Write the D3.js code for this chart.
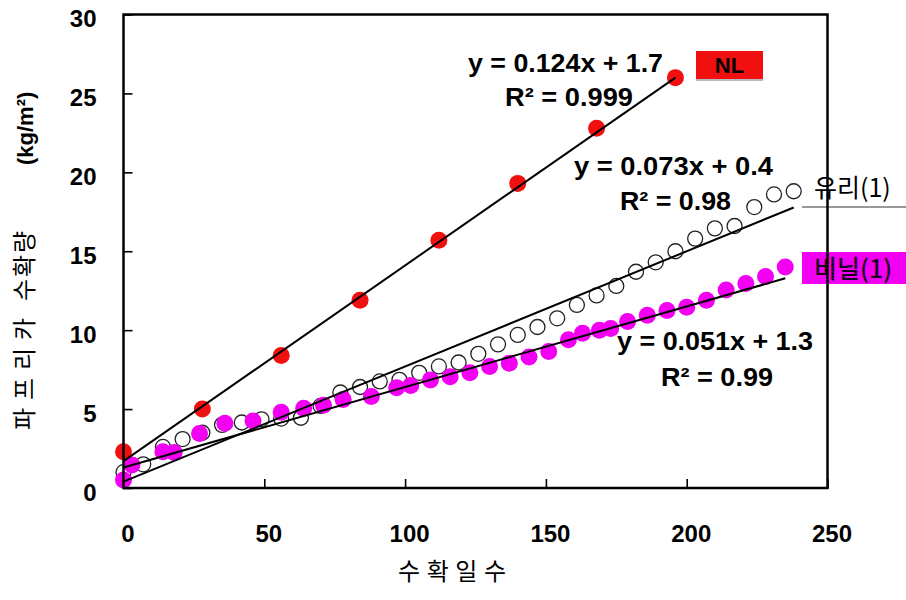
<!DOCTYPE html>
<html>
<head>
<meta charset="utf-8">
<script src="https://cdn.jsdelivr.net/npm/d3@7"></script>
<style>
  html, body { margin: 0; padding: 0; background: #fff; }
  svg { display: block; }
  .num { font-family: "Liberation Sans", Arial, sans-serif; font-weight: bold; }
  .kr { font-family: "Noto Sans CJK KR", "Noto Sans", sans-serif; }
</style>
</head>
<body>
<svg id="chart" width="906" height="600"></svg>
<script>
// Harvest days (x) and cumulative paprika yield in kg/m2 (y) per greenhouse type
const nlDays   = [0, 28, 56, 84, 112, 140, 168, 196];
const nlYield  = [2.3, 5.0, 8.4, 11.9, 15.7, 19.3, 22.8, 26.0];

const glassDays  = [0, 7, 14, 21, 28, 35, 42, 49, 56, 63, 70, 77, 84, 91, 98, 105, 112, 119,
                    126, 133, 140, 147, 154, 161, 168, 175, 182, 189, 196, 203, 210, 217, 224, 231, 238];
const glassYield = [1.0, 1.5, 2.6, 3.1, 3.5, 4.0, 4.15, 4.35, 4.4, 4.45, 5.2, 6.05, 6.4, 6.75, 6.85, 7.3, 7.7, 7.95,
                    8.5, 9.1, 9.7, 10.2, 10.75, 11.6, 12.2, 12.8, 13.7, 14.3, 15.0, 15.8, 16.45, 16.6, 17.8, 18.6, 18.8];

const vinylDays  = [0, 3, 14, 18, 27, 36, 46, 56, 64, 71, 78, 88, 97, 102, 109, 116, 123, 130,
                    137, 144, 151, 158, 163, 169, 173, 179, 186, 193, 200, 207, 214, 221, 228, 235];
const vinylYield = [0.5, 1.45, 2.3, 2.25, 3.45, 4.1, 4.25, 4.8, 5.05, 5.25, 5.6, 5.8, 6.35, 6.5, 6.85, 7.05, 7.3, 7.7,
                    7.9, 8.3, 8.65, 9.4, 9.8, 10.0, 10.1, 10.55, 10.95, 11.25, 11.45, 11.9, 12.55, 12.95, 13.4, 14.0];

// Linear fits: slope, intercept, fitted x-range
const fitSlope     = [0.124, 0.073, 0.051];
const fitIntercept = [1.7, 0.4, 1.3];
const fitRange     = [[0, 196], [0, 238], [0, 235]];
const fitEquation  = ["y = 0.124x + 1.7", "y = 0.073x + 0.4", "y = 0.051x + 1.3"];
const fitR2        = ["0.999", "0.98", "0.99"];

const seriesNames = ["NL", "유리(1)", "비닐(1)"];
const xTicks = [0, 50, 100, 150, 200, 250];
const yTicks = [0, 5, 10, 15, 20, 25, 30];

const svg = d3.select("#chart");
const plot = { left: 123.5, right: 827.5, top: 14.5, bottom: 488 };

const x = d3.scaleLinear().domain([0, 250]).range([plot.left, plot.right]);
const y = d3.scaleLinear().domain([0, 30]).range([plot.bottom, plot.top]);

// Axes: inward ticks, bold numeric labels
const gx = svg.append("g")
  .attr("transform", `translate(0,${plot.bottom})`)
  .call(d3.axisBottom(x).tickValues(xTicks).tickSizeInner(-9).tickSizeOuter(0).tickPadding(37));
gx.select(".domain").remove();
gx.selectAll(".tick line").attr("stroke", "#000").attr("stroke-width", 1.6);
gx.selectAll(".tick text").attr("class", "num").attr("font-size", 24).attr("fill", "#000").attr("dx", 4);

const gy = svg.append("g")
  .attr("transform", `translate(${plot.left},0)`)
  .call(d3.axisLeft(y).tickValues(yTicks).tickSizeInner(-9).tickSizeOuter(0).tickPadding(27));
gy.select(".domain").remove();
gy.selectAll(".tick line").attr("stroke", "#000").attr("stroke-width", 1.6);
gy.selectAll(".tick text").attr("class", "num").attr("font-size", 24).attr("fill", "#000").attr("dy", "0.5em");

// Axis titles
svg.append("text").attr("class", "kr")
  .attr("x", 398).attr("y", 580)
  .attr("font-size", 24).attr("textLength", 108).attr("lengthAdjust", "spacing")
  .text("수확일수");

const yTitle = svg.append("g").attr("transform", "translate(33,0) rotate(-90)");
yTitle.append("text").attr("class", "kr")
  .attr("x", -430).attr("y", 0).attr("font-size", 24)
  .attr("textLength", 112).attr("lengthAdjust", "spacing")
  .text("파프리카");
yTitle.append("text").attr("class", "kr")
  .attr("x", -301).attr("y", 0).attr("font-size", 24)
  .attr("textLength", 70).attr("lengthAdjust", "spacing")
  .text("수확량");
yTitle.append("text").attr("class", "num")
  .attr("x", -165).attr("y", 0).attr("font-size", 22)
  .text("(kg/m²)");

// Points: glass (open), vinyl (magenta), NL (red)
const glass = glassDays.map((d, i) => ({ x: d, y: glassYield[i] }));
const vinyl = vinylDays.map((d, i) => ({ x: d, y: vinylYield[i] }));
const nl = nlDays.map((d, i) => ({ x: d, y: nlYield[i] }));

svg.append("g").selectAll("circle").data(glass).join("circle")
  .attr("cx", d => x(d.x)).attr("cy", d => y(d.y)).attr("r", 7.5)
  .attr("fill", "none").attr("stroke", "#222").attr("stroke-width", 1.3);

svg.append("g").selectAll("circle").data(vinyl).join("circle")
  .attr("cx", d => x(d.x)).attr("cy", d => y(d.y)).attr("r", 8.5)
  .attr("fill", "#f200f2");

svg.append("g").selectAll("circle").data(nl).join("circle")
  .attr("cx", d => x(d.x)).attr("cy", d => y(d.y)).attr("r", 8.5)
  .attr("fill", "#f01010");

// Trend lines
fitSlope.forEach((m, i) => {
  const [x0, x1] = fitRange[i];
  svg.append("line")
    .attr("x1", x(x0)).attr("y1", y(m * x0 + fitIntercept[i]))
    .attr("x2", x(x1)).attr("y2", y(m * x1 + fitIntercept[i]))
    .attr("stroke", "#000").attr("stroke-width", 2);
});

// Fit equations
const eqPos = [
  { ex: 468, ey: 72, rx: 505, ry: 106, ew: 195, rw: 128 },
  { ex: 574, ey: 175, rx: 620, ry: 210, ew: 199, rw: 111 },
  { ex: 617, ey: 350, rx: 661, ry: 386, ew: 196, rw: 112 }
];
eqPos.forEach((p, i) => {
  svg.append("text").attr("class", "num").attr("font-size", 26)
    .attr("x", p.ex).attr("y", p.ey)
    .attr("textLength", p.ew).attr("lengthAdjust", "spacingAndGlyphs")
    .text(fitEquation[i]);
  svg.append("text").attr("class", "num").attr("font-size", 26)
    .attr("x", p.rx).attr("y", p.ry)
    .attr("textLength", p.rw).attr("lengthAdjust", "spacingAndGlyphs")
    .text("R² = " + fitR2[i]);
});

// Series labels
svg.append("rect").attr("x", 696).attr("y", 52).attr("width", 67).attr("height", 29).attr("fill", "#bbb");
svg.append("rect").attr("x", 696).attr("y", 51).attr("width", 67).attr("height", 28).attr("fill", "#f01010");
svg.append("text").attr("class", "num").attr("font-size", 22)
  .attr("x", 729.5).attr("y", 73).attr("text-anchor", "middle")
  .text(seriesNames[0]);

svg.append("text").attr("class", "kr").attr("font-size", 25)
  .attr("x", 814).attr("y", 197)
  .text(seriesNames[1]);
svg.append("line").attr("x1", 802).attr("x2", 906).attr("y1", 207).attr("y2", 207)
  .attr("stroke", "#999").attr("stroke-width", 2);

svg.append("rect").attr("x", 802).attr("y", 252).attr("width", 104).attr("height", 32).attr("fill", "#f200f2");
svg.append("text").attr("class", "kr").attr("font-size", 25).attr("font-weight", 500)
  .attr("x", 814).attr("y", 278).attr("fill", "#1a0020")
  .text(seriesNames[2]);

// Plot frame drawn last so it sits over the labels
svg.append("rect")
  .attr("x", plot.left).attr("y", plot.top)
  .attr("width", plot.right - plot.left).attr("height", plot.bottom - plot.top)
  .attr("fill", "none").attr("stroke", "#000").attr("stroke-width", 2.5);
</script>
</body>
</html>
